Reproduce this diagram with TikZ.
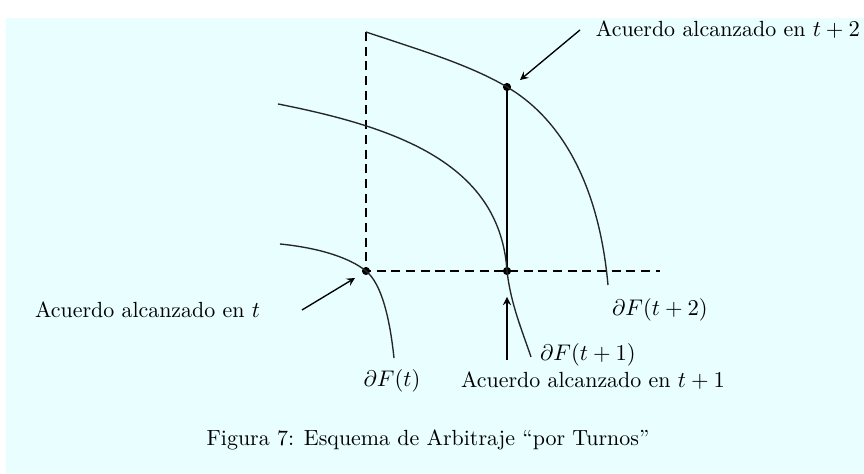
\documentclass[tikz,border=0pt]{standalone}
\usepackage{amsmath,amssymb}
\usetikzlibrary{positioning,calc}
\definecolor{fondo}{RGB}{232,254,255}
\tikzset{
  guia/.style={thick,dash pattern=on 4pt off 2.5pt},
  frontera/.style={semithick,draw=black!85},
  flecha/.style={semithick,->,>=stealth},
  punto/.style={circle,fill,inner sep=0pt,minimum size=3.6pt},
}
\begin{document}
\begin{tikzpicture}[x=0.4425pt,y=-0.4425pt,font=\fontsize{9.7}{11.5}\selectfont]
\useasboundingbox (0,0) rectangle (864,474);
\fill[fondo] (6,18) rectangle (864,474);
% puntos de acuerdo
\node[punto] (pt) at (366,271) {};
\node[punto] (pt1) at (507,271) {};
\node[punto] (pt2) at (507,87) {};
\coordinate (top) at (366,32);
\coordinate (der) at (660,271);
% lineas discontinuas y tramo vertical
\draw[guia] (top) -- (pt.center) -- (der);
\draw[thick] (pt1.center) -- (pt2.center);
% fronteras
\draw[frontera] (280,244) .. controls (320,248) and (350,258) .. (pt.center)
  .. controls (382,284) and (390,320) .. (394,358);
\draw[frontera] (278,104) .. controls (400,128) and (500,165) .. (pt1.center)
  .. controls (511,305) and (522,330) .. (531,357);
\draw[frontera] (top) .. controls (420,50) and (470,65) .. (pt2.center)
  .. controls (555,115) and (598,175) .. (608,285);
% etiquetas
\node[anchor=east] (lbl0) at (268,310) {Acuerdo alcanzado en $t$};
\node (lbl1) at (593,381) {Acuerdo alcanzado en $t+1$};
\node[anchor=west] (lbl2) at (588,30) {Acuerdo alcanzado en $t+2$};
\node (dF0) at (392,381) {$\partial F(t)$};
\node (dF1) at (588,355) {$\partial F(t+1)$};
\node (dF2) at (660,310) {$\partial F(t+2)$};
\node (cap) at (428,440) {Figura 7: Esquema de Arbitraje ``por Turnos''};
% flechas
\coordinate (a0) at (355,278);
\coordinate (a1) at (507,297);
\coordinate (a2) at (520,80);
\draw[flecha] ($(lbl0.east)+(34,0)$) -- (a0);
\draw[flecha] (lbl1.north -| pt1) ++(0,-4) -- (a1);
\draw[flecha] ($(lbl2.west)+(-8,0)$) -- (a2);
\end{tikzpicture}
\end{document}
